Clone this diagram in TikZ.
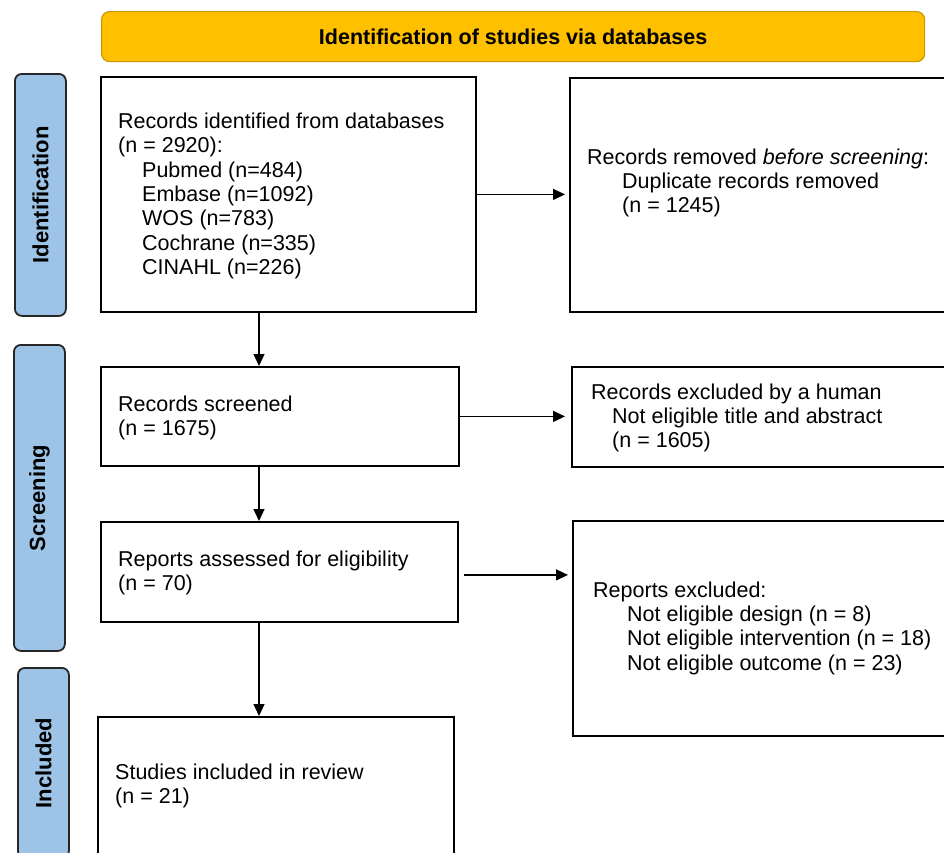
\documentclass[tikz,border=0pt]{standalone}
\usepackage{fontspec}
\setmainfont{Liberation Sans}
\usetikzlibrary{arrows.meta}
\definecolor{bannerfill}{RGB}{255,192,0}
\definecolor{bannerline}{RGB}{204,150,0}
\definecolor{phasefill}{RGB}{157,195,230}
\tikzset{
  box/.style={draw=black, line width=1.8pt, fill=white, anchor=north west, inner sep=0pt},
  phase/.style={draw=black!85, line width=1.8pt, fill=phasefill, rounded corners=7pt,
    anchor=north west, inner sep=0pt, minimum width=51pt},
  phaselabel/.style={rotate=90, inner sep=0pt, font=\fontsize{22}{24}\selectfont\bfseries},
  txt/.style={anchor=west, align=left, inner sep=0pt, font=\fontsize{21.5}{24.3}\selectfont},
  arr/.style={-{Triangle[length=12pt,width=11pt]}, line width=1.3pt},
}
\begin{document}
\begin{tikzpicture}[x=1pt,y=-1pt]
 \clip (0,0) rectangle (944,852);
 % banner
 \node[draw=bannerline, line width=1.2pt, fill=bannerfill, rounded corners=8pt,
   minimum width=823pt, minimum height=50pt, anchor=north west,
   font=\fontsize{21.5}{24}\selectfont\bfseries] (banner) at (101,11) {Identification of studies via databases};
 % phase bars
 \foreach \nm/\lbl/\x/\top/\h in {idphase/Identification/14/73/242,
     scphase/Screening/13/344/306, inphase/Included/17/667/190} {
   \node[phase, minimum height=\h pt] (\nm) at (\x,\top) {};
   \node[phaselabel] (\nm-lbl) at (\nm.center) {\lbl};
 }
 % boxes
 \node[box, minimum width=375pt, minimum height=235pt] (found) at (100,76) {};
 \node[box, minimum width=400pt, minimum height=234pt] (dupes) at (569,77) {};
 \node[box, minimum width=358pt, minimum height=99pt] (screened) at (100,366) {};
 \node[box, minimum width=400pt, minimum height=100pt] (excluded) at (571,366) {};
 \node[box, minimum width=357pt, minimum height=100pt] (assessed) at (100,521) {};
 \node[box, minimum width=400pt, minimum height=215pt] (rejected) at (572,520) {};
 \node[box, minimum width=356pt, minimum height=140pt] (included) at (97,716) {};
 % box texts
 \node[txt] (found-txt) at (118,196) {Records identified from databases\\(n = 2920):\\
   \hspace*{24pt}Pubmed (n=484)\\\hspace*{24pt}Embase (n=1092)\\\hspace*{24pt}WOS (n=783)\\
   \hspace*{24pt}Cochrane (n=335)\\\hspace*{24pt}CINAHL (n=226)};
 \node[txt] (dupes-txt) at (587,183) {Records removed \textit{before screening}:\\
   \hspace*{35pt}Duplicate records removed\\\hspace*{35pt}(n = 1245)};
 \node[txt] (screened-txt) at (118,418) {Records screened\\(n = 1675)};
 \node[txt] (excluded-txt) at (591,418) {Records excluded by a human\\
   \hspace*{21pt}Not eligible title and abstract\\\hspace*{21pt}(n = 1605)};
 \node[txt] (assessed-txt) at (118,573) {Reports assessed for eligibility\\(n = 70)};
 \node[txt] (rejected-txt) at (593,628) {Reports excluded:\\
   \hspace*{34pt}Not eligible design (n = 8)\\\hspace*{34pt}Not eligible intervention (n = 18)\\
   \hspace*{34pt}Not eligible outcome (n = 23)};
 \node[txt] (included-txt) at (115,786) {Studies included in review\\(n = 21)};
 % connectors
 \coordinate (spine) at (259,0);
 \draw[arr] (found.south -| spine) -- (screened.north -| spine);
 \draw[arr] (screened.south -| spine) -- (assessed.north -| spine);
 \draw[arr] (assessed.south -| spine) -- (included.north -| spine);
 \draw[arr, shorten >=4pt] (found.east) -- (found.east -| dupes.west);
 \draw[arr, shorten >=6pt] (screened.east) -- (screened.east -| excluded.west);
 \draw[arr, shorten <=5pt, shorten >=4pt] ([yshift=-3pt]assessed.east) -- ([yshift=-3pt]assessed.east -| rejected.west);
\end{tikzpicture}
\end{document}
